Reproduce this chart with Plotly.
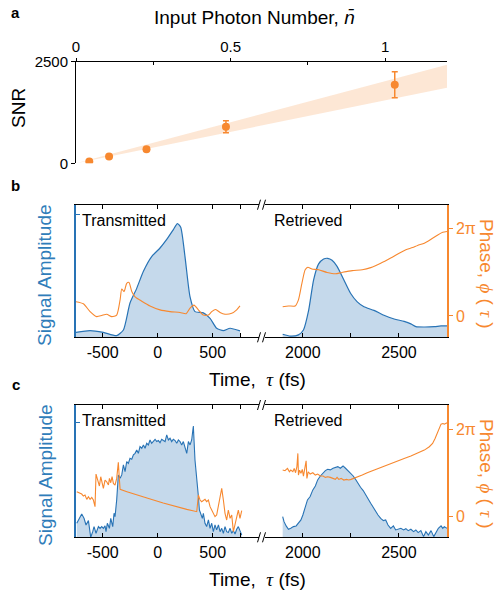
import plotly.graph_objects as go

# ---------------- data ----------------
# Panel a
photon_n = [0.043, 0.107, 0.228, 0.485, 1.031]
snr = [42, 166, 346, 898, 1930]
snr_err = [20, 25, 40, 150, 320]
band_n = [0, 1.2]
band_lo = [0, 1856]
band_hi = [0, 2418]

# Panel b  (amplitude normalised, phase in units of pi)
b_tr_t = [-750, -615, -494, -373, -312, -252, -191, -130, -55, 21, 82, 142, 179, 209, 248, 294, 339, 415, 476, 536, 597, 658, 748]
b_tr_amp = [0.04, 0.055, 0.04, 0.014, 0.06, 0.28, 0.40, 0.54, 0.66, 0.73, 0.80, 0.88, 0.93, 0.90, 0.66, 0.33, 0.21, 0.20, 0.155, 0.074, 0.055, 0.074, 0.052]
b_tr_pt = [-750, -676, -615, -555, -509, -464, -418, -373, -342, -327, -306, -282, -261, -236, -206, -145, -70, 21, 112, 203, 258, 294, 330, 370, 415, 461, 491, 527, 567, 612, 673, 718, 748]
b_tr_phase = [0.33, 0.28, 0.10, -0.015, 0.01, 0.04, -0.015, 0.02, 0.37, 0.62, 0.56, 0.75, 0.77, 0.56, 0.44, 0.34, 0.23, 0.14, 0.10, 0.08, 0.05, 0.18, 0.25, 0.14, 0.02, 0.02, 0.10, 0.15, 0.08, 0.04, 0.06, 0.14, 0.23]
b_re_t = [1895, 1934, 1977, 2003, 2030, 2056, 2082, 2108, 2129, 2152, 2178, 2213, 2248, 2283, 2318, 2370, 2422, 2475, 2527, 2562, 2588, 2632, 2684, 2719, 2750]
b_re_amp = [0.025, 0.01, 0.02, 0.06, 0.22, 0.47, 0.60, 0.64, 0.646, 0.63, 0.58, 0.47, 0.36, 0.29, 0.25, 0.22, 0.18, 0.15, 0.13, 0.11, 0.087, 0.084, 0.087, 0.093, 0.093]
b_re_pt = [1895, 1925, 1960, 1977, 1995, 2012, 2026, 2047, 2082, 2126, 2169, 2204, 2257, 2309, 2353, 2405, 2457, 2501, 2536, 2571, 2597, 2632, 2667, 2702, 2728, 2750]
b_re_phase = [0.21, 0.23, 0.23, 0.37, 0.75, 1.06, 1.12, 1.08, 1.06, 1.00, 0.97, 1.00, 1.04, 1.06, 1.11, 1.21, 1.33, 1.44, 1.52, 1.57, 1.62, 1.67, 1.76, 1.86, 1.92, 1.94]

# Panel c
c_tr_t = [-736, -712, -691, -670, -652, -630, -609, -591, -579, -561,
          -539, -524, -509, -494, -479, -470, -458, -439, -427, -409,
          -397, -388, -373, -358, -342, -327, -312, -297, -282, -267,
          -252, -236, -221, -206, -191, -176, -161, -145, -130, -115,
          -100, -85, -70, -55, -39, -24, -9, 6, 21, 36,
          52, 67, 82, 97, 112, 127, 142, 158, 173, 188,
          203, 218, 233, 248, 264, 279, 294, 309, 324, 339,
          355, 370, 379, 391, 406, 415, 430, 445, 461, 476,
          491, 506, 521, 536, 552, 567, 582, 597, 612, 627,
          642, 658, 673, 688, 703, 718, 733, 748, 764]
c_tr_amp = [0.122, 0.165, 0.203, 0.165, 0.107, 0.145, 0.0, 0.049, 0.093, 0.035,
            0.093, 0.078, 0.093, 0.078, 0.099, 0.049, 0.122, 0.078, 0.165, 0.093,
            0.209, 0.180, 0.325, 0.542, 0.513, 0.542, 0.629, 0.571, 0.658, 0.643,
            0.687, 0.678, 0.716, 0.730, 0.759, 0.730, 0.788, 0.774, 0.803, 0.774,
            0.817, 0.803, 0.846, 0.817, 0.832, 0.852, 0.832, 0.841, 0.823, 0.852,
            0.841, 0.832, 0.890, 0.846, 0.861, 0.832, 0.852, 0.841, 0.817, 0.846,
            0.832, 0.803, 0.832, 0.774, 0.730, 0.832, 0.803, 0.846, 0.968, 0.672,
            0.528, 0.354, 0.238, 0.209, 0.165, 0.209, 0.122, 0.093, 0.151, 0.078,
            0.122, 0.049, 0.107, 0.064, 0.107, 0.049, 0.078, 0.035, 0.093, 0.049,
            0.041, 0.078, 0.035, 0.058, 0.029, 0.070, 0.093, 0.058, 0.020]
c_tr_pt = [-736, -712, -691, -676, -661, -645, -630, -615, -600, -585,
           -570, -561, -548, -530, -518, -506, -494, -479, -464, -448,
           -439, -427, -415, -403, -388, -373, -358, -348, -342,
           -280, -191, -100, -39, 50, 112, 190, 264, 320, 355,
           370, 385, 400, 415, 430, 445, 461, 476, 491, 506,
           521, 536, 552, 567, 582, 597, 612, 627, 642, 658,
           673, 688, 703, 718, 733, 748, 764]
c_tr_phase = [0.559, 0.521, 0.506, 0.460, 0.483, 0.383, 0.444, 0.383, 0.429, 0.368,
              0.215, 0.966, 0.828, 0.690, 0.904, 0.751, 0.636, 0.828, 0.789, 0.713,
              0.866, 0.766, 0.904, 0.751, 0.713, 0.866, 1.234, 0.828, 0.613,
              0.56, 0.483, 0.42, 0.368, 0.30, 0.253, 0.20, 0.153, 0.12, 0.100,
              0.483, 0.368, 0.330, 0.368, 0.383, 0.330, 0.368, 0.215, 0.138, 0.061,
              -0.015, 0.023, 0.215, 0.406, 0.636, 0.368, 0.061, -0.092, 0.138, -0.054,
              0.023, -0.360, -0.207, -0.015, 0.138, -0.054, 0.123]
c_re_t = [1895, 1902, 1913, 1925, 1937, 1951, 1965, 1977, 1990, 2000,
          2012, 2024, 2038, 2052, 2065, 2077, 2091, 2105, 2117, 2129,
          2143, 2157, 2169, 2182, 2195, 2209, 2222, 2234, 2248, 2262,
          2274, 2286, 2300, 2314, 2326, 2339, 2353, 2366, 2379, 2391,
          2405, 2419, 2431, 2443, 2457, 2471, 2483, 2496, 2510, 2524,
          2536, 2548, 2562, 2576, 2588, 2600, 2614, 2628, 2640, 2653,
          2667, 2681, 2693, 2705, 2719, 2728, 2736, 2750]
c_re_amp = [0.180, 0.136, 0.099, 0.070, 0.078, 0.093, 0.099, 0.122, 0.151, 0.194,
            0.267, 0.325, 0.354, 0.412, 0.446, 0.499, 0.533, 0.557, 0.580, 0.591,
            0.586, 0.600, 0.606, 0.614, 0.600, 0.620, 0.600, 0.580, 0.557, 0.533,
            0.504, 0.470, 0.435, 0.406, 0.368, 0.330, 0.296, 0.261, 0.223, 0.194,
            0.165, 0.145, 0.151, 0.107, 0.078, 0.099, 0.064, 0.070, 0.078, 0.064,
            0.075, 0.058, 0.070, 0.049, 0.064, 0.041, 0.058, 0.006, 0.049, 0.020,
            0.058, 0.006, 0.049, 0.078, 0.099, 0.078, 0.093, 0.078]
c_re_pt = [1895, 1907, 1920, 1930, 1937, 1948, 1955, 1962, 1969, 1974,
           1977, 1983, 1990, 1997, 2003, 2010, 2017, 2021, 2028, 2038,
           2052, 2065, 2077, 2091, 2105, 2117, 2129, 2143, 2157, 2169,
           2178, 2187, 2199, 2213, 2227, 2239, 2251, 2265, 2283, 2309,
           2335, 2361, 2387, 2422, 2457, 2492, 2527, 2562, 2597, 2632,
           2658, 2675, 2688, 2698, 2710, 2719, 2728, 2736, 2750]
c_re_phase = [1.057, 1.042, 1.096, 1.019, 1.057, 1.019, 1.096, 0.996, 1.134, 1.441,
              0.943, 1.057, 0.981, 1.073, 0.920, 1.096, 1.272, 0.866, 1.019, 0.966,
              0.996, 0.943, 0.966, 0.920, 0.920, 0.889, 0.904, 0.889, 0.866, 0.843,
              0.889, 0.843, 0.866, 0.828, 0.843, 0.828, 0.843, 0.866, 0.889, 0.943,
              0.996, 1.042, 1.096, 1.149, 1.211, 1.272, 1.326, 1.379, 1.441, 1.517,
              1.594, 1.670, 1.785, 1.900, 2.015, 2.115, 2.130, 2.115, 2.146]

# tick labels
a_xticks = [0, 0.5, 1]
a_xtext = ["0", "0.5", "1"]
a_yticks = [0, 2500]
a_ytext = ["0", "2500"]
left_ticks = [-750, -500, 0, 500, 750]
left_text = ["", "-500", "0", "500", ""]
right_ticks = [2000, 2250, 2500]
right_text = ["2000", "", "2500"]
phase_ticks = [0, 2]
phase_text = ["0", "2\u03c0"]

# ---------------- style ----------------
W, H = 498, 592
FONT = "Liberation Sans, Arial, sans-serif"
ORANGE = "#F7882F"
BLUE = "#2873B5"
BLUE_TXT = "#2F7DBA"
FILL = "rgba(40,115,181,0.27)"
BAND = "rgba(247,136,47,0.20)"

def px(x):
    return x / W

def py(y):
    return 1 - y / H

A_X = [px(76), px(447)]
A_Y = [py(163.3), py(61.5)]
L_X = [px(76), px(259)]
R_X = [px(265), px(447)]
B_Y = [py(337.3), py(204.7)]
C_Y = [py(537.3), py(405)]
L_RANGE = [-743, 921]
R_RANGE = [1803, 2750]
PH_RANGE = [-0.49, 2.555]

fig = go.Figure()

# Panel a
fig.add_trace(go.Scatter(x=band_n, y=band_lo, mode="lines", line=dict(width=0),
                         showlegend=False, hoverinfo="skip", xaxis="x", yaxis="y"))
fig.add_trace(go.Scatter(x=band_n, y=band_hi, mode="lines", line=dict(width=0),
                         fill="tonexty", fillcolor=BAND, showlegend=False,
                         hoverinfo="skip", xaxis="x", yaxis="y"))
fig.add_trace(go.Scatter(x=photon_n, y=snr, mode="markers",
                         marker=dict(color=ORANGE, size=8),
                         error_y=dict(type="data", array=snr_err, color=ORANGE,
                                      thickness=1.5, width=3),
                         showlegend=False, xaxis="x", yaxis="y"))

def amp_trace(t, a, xa, ya):
    return go.Scatter(x=t, y=a, mode="lines", line=dict(color=BLUE, width=1.2, shape="spline", smoothing=0.6),
                      fill="tozeroy", fillcolor=FILL, showlegend=False, xaxis=xa, yaxis=ya)

def amp_trace_raw(t, a, xa, ya):
    return go.Scatter(x=t, y=a, mode="lines", line=dict(color=BLUE, width=1.1),
                      fill="tozeroy", fillcolor=FILL, showlegend=False, xaxis=xa, yaxis=ya)

def ph_trace(t, p, xa, ya, smooth):
    line = dict(color=ORANGE, width=1.1)
    if smooth:
        line.update(shape="spline", smoothing=0.6)
    return go.Scatter(x=t, y=p, mode="lines", line=line, showlegend=False, xaxis=xa, yaxis=ya)

# Panel b
fig.add_trace(amp_trace(b_tr_t, b_tr_amp, "x2", "y2"))
fig.add_trace(ph_trace(b_tr_pt, b_tr_phase, "x2", "y3", True))
fig.add_trace(amp_trace(b_re_t, b_re_amp, "x3", "y4"))
fig.add_trace(ph_trace(b_re_pt, b_re_phase, "x3", "y5", True))
# Panel c
fig.add_trace(amp_trace_raw(c_tr_t, c_tr_amp, "x4", "y6"))
fig.add_trace(ph_trace(c_tr_pt, c_tr_phase, "x4", "y7", False))
fig.add_trace(amp_trace_raw(c_re_t, c_re_amp, "x5", "y8"))
fig.add_trace(ph_trace(c_re_pt, c_re_phase, "x5", "y9", False))

tickfont = dict(family=FONT, size=16, color="black")

def time_axis(domain, anchor, rng, tv, tt):
    return dict(domain=domain, anchor=anchor, range=rng, tickvals=tv, ticktext=tt,
                ticks="inside", ticklen=4, tickcolor="black", showline=True,
                linecolor="black", linewidth=1, mirror="ticks", showgrid=False,
                zeroline=False, tickfont=tickfont, fixedrange=True, automargin=False)

def amp_axis(domain, anchor, rng, visible):
    return dict(domain=domain, anchor=anchor, range=rng, tickvals=[1], ticks="inside",
                ticklen=4, tickcolor=BLUE, showticklabels=False, showline=True,
                linecolor=BLUE, linewidth=1.5, showgrid=False, zeroline=False,
                visible=visible, fixedrange=True, automargin=False)

def phase_axis(overlay, anchor, visible):
    return dict(overlaying=overlay, anchor=anchor, side="right", range=PH_RANGE,
                tickvals=phase_ticks, ticktext=phase_text, ticks="outside", ticklen=4,
                tickcolor=ORANGE, showline=True, linecolor=ORANGE, linewidth=1.5,
                tickfont=dict(family=FONT, size=16, color=ORANGE), showgrid=False,
                zeroline=False, visible=visible, fixedrange=True, automargin=False)

fig.update_layout(
    template="none",
    width=W, height=H, margin=dict(l=0, r=0, t=0, b=0, pad=0, autoexpand=False),
    paper_bgcolor="white", plot_bgcolor="rgba(0,0,0,0)",
    font=dict(family=FONT, color="black"), showlegend=False, hovermode=False,
    xaxis=dict(domain=A_X, anchor="y", side="top", range=[0, 1.2],
               tickvals=a_xticks, ticktext=a_xtext, ticks="outside", ticklen=3,
               tickcolor="black", minor=dict(tickvals=[0.25, 0.75], ticks="inside", ticklen=3, tickcolor="black"),
               showline=True, linecolor="black", linewidth=1, showgrid=False,
               zeroline=False, tickfont=dict(family=FONT, size=15), fixedrange=True, automargin=False),
    xaxis6=dict(overlaying="x", anchor="y", side="bottom", range=[0, 1.2],
                tickvals=[0.25, 0.5, 0.75, 1], ticks="inside", ticklen=3, tickcolor="black",
                showticklabels=False, showline=True, linecolor="black", linewidth=1,
                showgrid=False, zeroline=False, fixedrange=True, automargin=False),
    yaxis=dict(domain=A_Y, anchor="x", range=[0, 2500], tickvals=a_yticks, ticktext=a_ytext,
               ticks="outside", ticklen=4, tickcolor="black", showline=True,
               linecolor="black", linewidth=1, showgrid=False, zeroline=False,
               tickfont=dict(family=FONT, size=15), fixedrange=True, automargin=False),
    yaxis10=dict(overlaying="y", anchor="x", side="right", range=[0, 2500],
                 tickvals=[0, 500, 1000, 1500, 2000, 2500], ticks="inside", ticklen=3,
                 tickcolor="black", showticklabels=False, showline=True, linecolor="black",
                 linewidth=1, showgrid=False, zeroline=False, fixedrange=True, automargin=False),
    xaxis2=time_axis(L_X, "y2", L_RANGE, left_ticks, left_text),
    yaxis2=amp_axis(B_Y, "x2", [0, 1.084], True),
    yaxis3=phase_axis("y2", "x2", False),
    xaxis3=time_axis(R_X, "y4", R_RANGE, right_ticks, right_text),
    yaxis4=amp_axis(B_Y, "x3", [0, 1.084], False),
    yaxis5=phase_axis("y4", "x3", True),
    xaxis4=time_axis(L_X, "y6", L_RANGE, left_ticks, left_text),
    yaxis6=amp_axis(C_Y, "x4", [0, 1.150], True),
    yaxis7=phase_axis("y6", "x4", False),
    xaxis5=time_axis(R_X, "y8", R_RANGE, right_ticks, right_text),
    yaxis8=amp_axis(C_Y, "x5", [0, 1.150], False),
    yaxis9=phase_axis("y8", "x5", True),
)

ann = []
def add_text(text, x, y, size, color="black", xanchor="center", angle=0, bold=False):
    t = "<b>%s</b>" % text if bold else text
    ann.append(dict(text=t, x=px(x), y=py(y), xref="paper", yref="paper",
                    xanchor=xanchor, yanchor="middle", showarrow=False, textangle=angle,
                    font=dict(family=FONT, size=size, color=color)))

SERIF = "font-family:'Liberation Serif', 'DejaVu Serif', serif"
def greek(ch):
    return '<span style="%s"><i>%s</i></span>' % (SERIF, ch)

add_text("a", 16, 13, 15, bold=True)
add_text("b", 16, 185, 15, bold=True)
add_text("c", 16, 384, 15, bold=True)
add_text("Input Photon Number, <i>n\u0304</i>", 254, 17, 19)
add_text("SNR", 18, 108, 19, angle=-90)
tau = greek("\u03c4")
phi = greek("\u03d5")
for yc, ym in ((379, 275), (579, 475)):
    add_text("Time,  " + tau + " (fs)", 257, yc, 19)
    add_text("Signal Amplitude", 45, ym, 19, color=BLUE_TXT, angle=-90)
    add_text("Phase, " + phi + " ( " + tau + " )", 487, ym - 1, 19, color=ORANGE, angle=90)
for yt in (220, 420.5):
    add_text("Transmitted", 80, yt, 16, xanchor="left")
    add_text("Retrieved", 272, yt, 16, xanchor="left")
fig.update_layout(annotations=ann)

# axis-break marks
shapes = []
for ytop, ybot in ((204.7, 337.3), (405, 537.3)):
    for yb in (ytop, ybot):
        for xb in (259, 264):
            shapes.append(dict(type="line", xref="paper", yref="paper",
                               x0=px(xb - 1.5), y0=py(yb + 5), x1=px(xb + 1.5), y1=py(yb - 5),
                               line=dict(color="black", width=1)))
fig.update_layout(shapes=shapes)

fig.write_html("out.html", config={"displayModeBar": False},
               post_script="document.body.style.margin='0px';document.body.style.overflow='hidden';")
